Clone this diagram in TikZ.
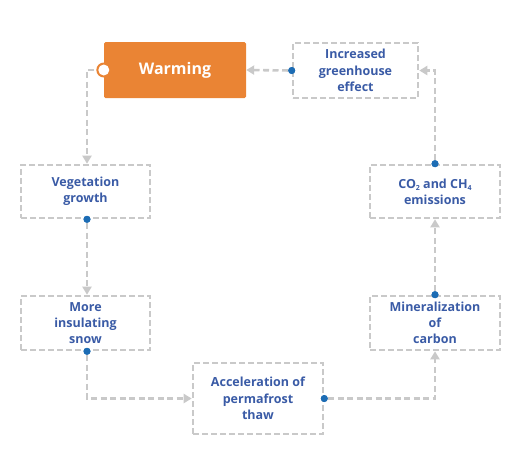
\documentclass[tikz,border=0pt]{standalone}
\usepackage{fontspec}
\setmainfont{Open Sans}
\usetikzlibrary{arrows.meta}
\definecolor{wblue}{HTML}{3A5BA6}
\definecolor{dotblue}{HTML}{1C6CB4}
\definecolor{worange}{HTML}{EA8434}
\definecolor{lgray}{HTML}{C9C9C9}
\tikzset{
  x=1pt, y=-1pt,
  boxst/.style={draw=lgray, line width=2.6pt, dash pattern=on 6pt off 3pt, fill=white,
    rectangle, inner sep=0pt, align=center, text=wblue, font=\bfseries\fontsize{12.5}{16.3}\selectfont},
  conn/.style={draw=lgray, line width=2.6pt, dash pattern=on 6pt off 3.5pt,
    -{Triangle[length=8pt,width=9pt,fill=lgray]}},
  bdot/.style={circle, fill=dotblue, inner sep=0pt, minimum size=7pt}
}
\newcommand{\mysub}[1]{\raisebox{-0.35ex}{\fontsize{7}{7}\selectfont #1}}
\begin{document}
\begin{tikzpicture}
\useasboundingbox (0,0) rectangle (522,464);
% boxes
\node[rectangle, fill=worange, rounded corners=1.5pt, minimum width=142pt, minimum height=56pt, inner sep=0pt,
  text=white, font=\bfseries\fontsize{16}{19}\selectfont] (warm) at (175,70) {\raisebox{-2pt}{Warming}};
\node[boxst, minimum width=125pt, minimum height=55pt] (green) at (355.5,70.5) {Increased\\greenhouse\\effect};
\node[boxst, minimum width=129pt, minimum height=53pt] (veg) at (85.5,191.5) {\raisebox{-2pt}{\begin{tabular}{@{}c@{}}Vegetation\\growth\end{tabular}}};
\node[boxst, minimum width=130pt, minimum height=53pt] (co2) at (435,191.5) {CO\mysub{2} and CH\mysub{4}\\emissions};
\node[boxst, minimum width=129pt, minimum height=54pt] (snow) at (85.5,323) {More\\insulating\\snow};
\node[boxst, minimum width=130pt, minimum height=54pt] (mine) at (435,323) {Mineralization\\of\\carbon};
\node[boxst, minimum width=130pt, minimum height=71pt] (acc) at (258,398.5) {Acceleration of\\permafrost\\thaw};
% connector start points
\coordinate (wn) at (warm.west);
\node[bdot] (gd) at (green.west) {};
\node[bdot] (vd) at (veg.south -| 87,0) {};
\node[bdot] (cd) at (co2.north) {};
\node[bdot] (sd) at (snow.south -| 87,0) {};
\node[bdot] (ad) at (acc.east) {};
\node[bdot] (md) at (mine.north) {};
% connectors
\draw[conn] (wn) -| (veg.north -| vd);
\draw[conn] (vd) -- (snow.north -| vd);
\draw[conn] (sd) |- (acc.west);
\draw[conn] (ad) -| (mine.south);
\draw[conn] (md) -- (co2.south);
\draw[conn] (cd) |- (green.east);
\draw[conn] (gd) -- (warm.east);
% notch on warming
\fill[worange] (wn) circle (7.5pt);
\fill[white] (wn) circle (5.5pt);
% redraw dots on top
\foreach \n in {gd,vd,cd,sd,ad,md} \fill[dotblue] (\n) circle (3.5pt);
\end{tikzpicture}
\end{document}
